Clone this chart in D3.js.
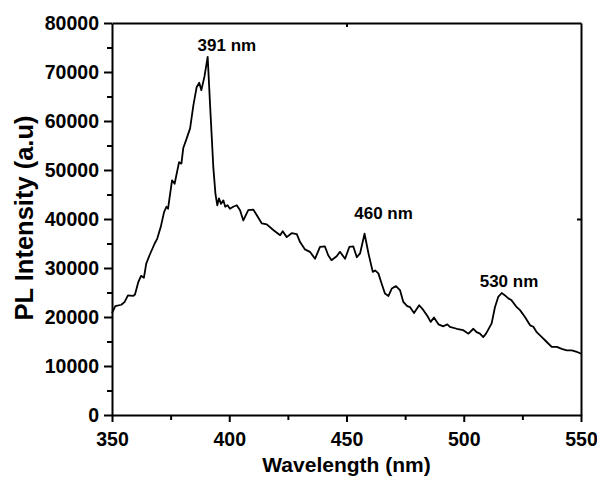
<!DOCTYPE html>
<html>
<head>
<meta charset="utf-8">
<script src="https://cdn.jsdelivr.net/npm/d3@7"></script>
<style>
  body { margin: 0; background: #fff; }
  text { font-family: "Liberation Sans", Arial, sans-serif; font-weight: bold; fill: #000; }
</style>
</head>
<body>
<div id="chart"></div>
<script>
// spectrum
const wavelength = [350, 351.4, 354, 355.4, 356.8, 359, 359.8, 361.2, 362.4, 363.6, 364.6, 366, 368.2, 369.3,
  370.8, 372.2, 373.2, 373.9, 375.6, 376.7, 378.6, 379.6, 380.4, 381.6, 383.3, 384.7, 386.1, 387.2, 388.1,
  389.4, 390.8, 391.8, 393.2, 394.1, 394.9, 395.6, 396.5, 397.5, 398.3, 399.3, 400.3, 401.7, 403.2, 404.6,
  406, 408.1, 410.3, 411.7, 413.9, 416, 418.9, 421.7, 422.8, 424.5, 426.6, 428.8, 430.2, 432.3, 434.4,
  436.6, 438.7, 440.8, 442.2, 443.6, 445.8, 447.2, 449.4, 451.2, 452.9, 454.4, 455.8, 457.7, 459.4, 461.2,
  462.2, 463.6, 465, 466.4, 467.9, 469.3, 471.1, 472.8, 474.2, 475.9, 477.1, 478.8, 481, 482.8, 484.5,
  485.9, 487.3, 489.2, 491.3, 493, 494.1, 497, 499.8, 502, 504.1, 505.5, 506.9, 508.3, 509.5, 511.9, 513.3,
  514.7, 516.2, 517.6, 519, 520.4, 522.6, 524, 526.1, 528.3, 529.7, 531.1, 533.3, 535.4, 537.5, 539.7,
  541.8, 543.9, 546.1, 548.2, 550];
const intensity = [20800, 22200, 22500, 23100, 24400, 24300, 24600, 27100, 28400, 28000, 30900, 32600, 35000, 36000,
  38400, 41400, 42500, 42100, 47900, 47200, 51600, 51300, 54500, 56100, 58500, 63200, 66900, 67800, 66300,
  69000, 73100, 63500, 50600, 45200, 42800, 44200, 43100, 43800, 42500, 42800, 42100, 42500, 42800, 41800,
  39700, 41800, 41900, 40800, 39100, 38900, 37700, 36700, 37500, 36300, 37100, 36900, 35300, 33800, 33300,
  31900, 34300, 34400, 32600, 31600, 32400, 33300, 31900, 34300, 34400, 32200, 33000, 37000, 32900, 29200,
  29500, 28900, 26800, 24800, 24300, 25800, 26300, 25500, 23100, 22200, 22000, 20800, 22400, 21400, 20200,
  19000, 19900, 18500, 18100, 18500, 18000, 17600, 17300, 16600, 17600, 16900, 16600, 15900, 16600, 18700, 22000,
  24100, 24900, 24400, 23800, 23400, 22000, 21400, 20000, 18300, 18000, 16900, 15900, 14900, 13900, 13900,
  13500, 13200, 13200, 12900, 12500];

const xTicks = [350, 400, 450, 500, 550];
const yTicks = [0, 10000, 20000, 30000, 40000, 50000, 60000, 70000, 80000];
const peakLabels = ["391 nm", "460 nm", "530 nm"];
const peakAt = [[399, 74200], [465.8, 40100], [519.3, 26100]];

const width = 597, height = 477;
const margin = { top: 23, right: 16, bottom: 62, left: 112 };

const svg = d3.select("#chart").append("svg")
  .attr("width", width)
  .attr("height", height);

const x = d3.scaleLinear().domain([350, 550]).range([margin.left, width - margin.right]);
const y = d3.scaleLinear().domain([0, 80000]).range([height - margin.bottom, margin.top]);

// minor ticks first, majors drawn over them
svg.append("g")
  .attr("transform", `translate(0,${y(0)})`)
  .call(d3.axisBottom(x).tickValues(d3.range(375, 550, 50)).tickSize(5).tickFormat(""))
  .call(g => g.select(".domain").remove());
svg.append("g")
  .attr("transform", `translate(${x(350)},0)`)
  .call(d3.axisLeft(y).tickValues(d3.range(5000, 80000, 10000)).tickSize(5).tickFormat(""))
  .call(g => g.select(".domain").remove());

const xAxis = svg.append("g")
  .attr("transform", `translate(0,${y(0)})`)
  .call(d3.axisBottom(x).tickValues(xTicks).tickSize(7).tickPadding(10).tickSizeOuter(0));
xAxis.selectAll("text").style("font-size", "19.5px");

const yAxis = svg.append("g")
  .attr("transform", `translate(${x(350)},0)`)
  .call(d3.axisLeft(y).tickValues(yTicks).tickSize(8).tickPadding(5).tickSizeOuter(0).tickFormat(d3.format("d")));
yAxis.selectAll("text").style("font-size", "19.5px");

// top and right frame
svg.append("g")
  .attr("transform", `translate(0,${y(80000)})`)
  .call(d3.axisTop(x).tickValues([450]).tickSize(-4).tickFormat("").tickSizeOuter(0));
svg.append("g")
  .attr("transform", `translate(${x(550)},0)`)
  .call(d3.axisRight(y).tickValues([40000]).tickSize(-4).tickFormat("").tickSizeOuter(0));

svg.selectAll(".domain, .tick line").attr("stroke", "#000").attr("stroke-width", 2);

svg.append("path")
  .datum(wavelength.map((w, i) => [w, intensity[i]]))
  .attr("fill", "none")
  .attr("stroke", "#000")
  .attr("stroke-width", 1.8)
  .attr("stroke-linejoin", "round")
  .attr("d", d3.line().x(d => x(d[0])).y(d => y(d[1])));

svg.selectAll(".peak")
  .data(peakLabels)
  .join("text")
  .attr("class", "peak")
  .attr("x", (d, i) => x(peakAt[i][0]))
  .attr("y", (d, i) => y(peakAt[i][1]))
  .attr("text-anchor", "middle")
  .style("font-size", "17px")
  .text(d => d);

svg.append("text")
  .attr("x", (x(350) + x(550)) / 2)
  .attr("y", 472)
  .attr("text-anchor", "middle")
  .style("font-size", "21px")
  .text("Wavelength (nm)");

svg.append("text")
  .attr("transform", "translate(33,218) rotate(-90)")
  .attr("text-anchor", "middle")
  .style("font-size", "25.5px")
  .text("PL Intensity (a.u)");
</script>
</body>
</html>
